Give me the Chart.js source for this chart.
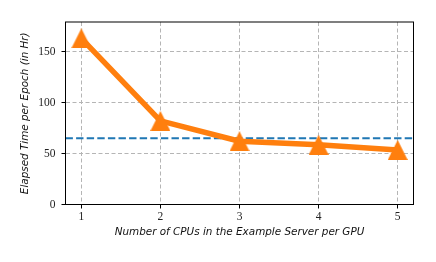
<!DOCTYPE html>
<html>
<head>
<meta charset="utf-8">
<script src="https://cdn.jsdelivr.net/npm/chart.js@4/dist/chart.umd.min.js"></script>
<style>
  html, body { margin: 0; padding: 0; background: #fff; }
  #wrap { width: 436px; height: 262px; }
</style>
</head>
<body>
<div id="wrap"><canvas id="chart" width="436" height="262"></canvas></div>
<script>
/* ===== Data ===== */
const cpus = [1, 2, 3, 4, 5];
const elapsedHours = [163, 82, 62, 58.5, 53.5];
const baselineHours = 65;
const xLimits = [0.8, 5.2];
const yLimits = [0, 179];
const yTicks = [0, 50, 100, 150];

/* ===== Triangle marker (centered on bbox, like matplotlib '^') ===== */
function makeTriangle(size, color) {
  const c = document.createElement('canvas');
  c.width = size; c.height = size;
  const g = c.getContext('2d');
  g.fillStyle = color;
  g.beginPath();
  g.moveTo(size / 2, 0);
  g.lineTo(size, size);
  g.lineTo(0, size);
  g.closePath();
  g.fill();
  return c;
}
const triangle = makeTriangle(20, '#ff7f0e');

// Frame on all four sides (matplotlib spines)
const framePlugin = {
  id: 'frame',
  afterDatasetsDraw(chart) {
    const { ctx, chartArea: a } = chart;
    ctx.save();
    ctx.strokeStyle = '#000';
    ctx.lineWidth = 1;
    ctx.strokeRect(a.left, a.top, a.right - a.left, a.bottom - a.top);
    ctx.restore();
  },
};

const tickFont = { family: '"Liberation Serif", "DejaVu Serif", serif', size: 11.5 };
const titleFont = { family: '"DejaVu Sans", sans-serif', size: 10.4, style: 'italic' };
const gridStyle = {
  color: '#b5b5b5',
  lineWidth: 1,
  tickLength: 4,
  tickColor: '#000',
  tickBorderDash: [],
};

new Chart(document.getElementById('chart'), {
  type: 'line',
  data: {
    datasets: [
      {
        label: 'Elapsed',
        data: cpus.map((c, i) => ({ x: c, y: elapsedHours[i] })),
        borderColor: '#ff7f0e',
        borderWidth: 5.5,
        borderJoinStyle: 'round',
        pointStyle: triangle,
        pointRadius: 10,
        tension: 0,
        order: 0,
      },
      {
        label: 'Baseline',
        data: xLimits.map(x => ({ x: x, y: baselineHours })),
        borderColor: '#1f77b4',
        borderWidth: 2.2,
        borderDash: [7.4, 3.2],
        pointRadius: 0,
        order: 1,
      },
    ],
  },
  options: {
    responsive: false,
    animation: false,
    events: [],
    layout: { padding: { top: 22, right: 22.5, left: 0, bottom: 0 } },
    plugins: { legend: { display: false }, tooltip: { enabled: false } },
    scales: {
      x: {
        type: 'linear',
        min: xLimits[0],
        max: xLimits[1],
        afterBuildTicks: s => { s.ticks = cpus.map(v => ({ value: v })); },
        afterFit: s => { s.height = 57.5; },
        border: { display: true, color: '#000', width: 1, dash: [4, 2.5] },
        grid: gridStyle,
        ticks: { font: tickFont, color: '#222', padding: 2, maxRotation: 0 },
        title: {
          display: true,
          text: 'Number of CPUs in the Example Server per GPU',
          font: titleFont,
          color: '#111',
          padding: { top: 0, bottom: 23.7 },
        },
      },
      y: {
        min: yLimits[0],
        max: yLimits[1],
        afterBuildTicks: s => { s.ticks = yTicks.map(v => ({ value: v })); },
        afterFit: s => { s.width = 65.5; },
        border: { display: true, color: '#000', width: 1, dash: [4, 2.5] },
        grid: gridStyle,
        ticks: { font: tickFont, color: '#222', padding: 6 },
        title: {
          display: true,
          text: 'Elapsed Time per Epoch (in Hr)',
          font: titleFont,
          color: '#111',
          padding: { top: 19, bottom: 0 },
        },
      },
    },
  },
  plugins: [framePlugin],
});
</script>
</body>
</html>
